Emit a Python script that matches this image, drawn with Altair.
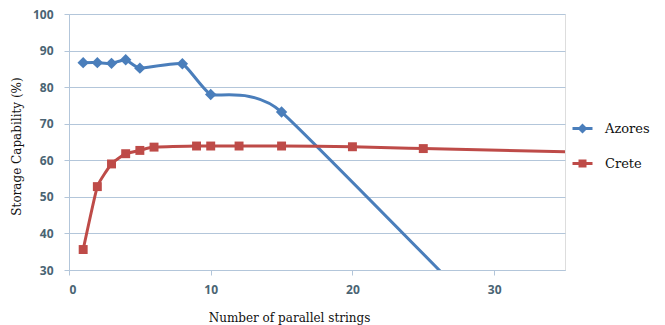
import altair as alt
import pandas as pd

# ---- data ----
series_names = ["Azores", "Crete"]
azores_x = [1, 2, 3, 4, 5, 8, 10, 15, 40]
azores_y = [86.7, 86.7, 86.5, 87.5, 85.2, 86.4, 78.0, 73.2, -25.0]
crete_x = [1, 2, 3, 4, 5, 6, 9, 10, 12, 15, 20, 25, 50]
crete_y = [35.6, 52.8, 59.0, 61.8, 62.7, 63.6, 63.9, 63.9, 63.9, 63.9, 63.7, 63.2, 61.0]
y_ticks = [30, 40, 50, 60, 70, 80, 90, 100]
x_ticks = [0, 10, 20, 30]

colors = ["#4A7EBB", "#BE4B48"]
legend_paths = [
    "M-2,-0.3H2V0.3H-2Z M0,-1L1,0L0,1L-1,0Z",
    "M-2,-0.3H2V0.3H-2Z M-0.8,-0.8H0.8V0.8H-0.8Z",
]

df = pd.concat([
    pd.DataFrame({"x": azores_x, "y": azores_y, "series": "Azores"}),
    pd.DataFrame({"x": crete_x, "y": crete_y, "series": "Crete"}),
], ignore_index=True)

xscale = alt.Scale(domain=[0, 35], nice=False, zero=False)
yscale = alt.Scale(domain=[30, 100], nice=False, zero=False)
cscale = alt.Scale(domain=series_names, range=colors)

grid_col = "#B3C6DA"
lab_font = "Open Sans"
lab_col = "#4A6473"

x_axis = alt.Axis(values=x_ticks, grid=False, domainColor=grid_col, tickColor=grid_col,
                  tickSize=5, labelFont=lab_font, labelFontSize=12, labelFontWeight="bold",
                  labelColor=lab_col, labelPadding=9, labelOverlap=False,
                  title="Number of parallel strings", titleFont="DejaVu Serif",
                  titleFontSize=12, titleFontWeight="normal", titleColor="#111111",
                  titleX=220, titleY=47, titleAlign="center", titleBaseline="middle")
y_axis = alt.Axis(values=y_ticks, grid=True, gridColor=grid_col, domainColor=grid_col,
                  tickColor=grid_col, tickSize=5, labelFont=lab_font, labelFontSize=12,
                  labelFontWeight="bold", labelColor=lab_col, labelPadding=11,
                  labelOverlap=False,
                  title="Storage Capability (%)", titleFont="DejaVu Serif",
                  titleFontSize=12, titleFontWeight="normal", titleColor="#111111",
                  titleX=-53, titleY=132, titleAlign="center", titleBaseline="middle")

X = alt.X("x:Q", scale=xscale, axis=x_axis)
Y = alt.Y("y:Q", scale=yscale, axis=y_axis)
C = alt.Color("series:N", scale=cscale)

base = alt.Chart(df)

lines = base.mark_line(strokeWidth=3, interpolate="cardinal", tension=0.6, clip=True).encode(
    x=X, y=Y, color=C, detail="series:N",
)

az_pts = base.transform_filter(alt.datum.series == "Azores").mark_point(
    shape="diamond", filled=True, size=130, opacity=1, clip=True).encode(x=X, y=Y, color=C)
cr_pts = base.transform_filter(alt.datum.series == "Crete").mark_point(
    shape="square", filled=True, size=80, opacity=1, clip=True).encode(x=X, y=Y, color=C)

leg = alt.Legend(title=None, orient="none", legendX=507, legendY=108,
                 symbolSize=100, symbolOpacity=1, symbolStrokeWidth=0,
                 labelFont="DejaVu Serif", labelFontSize=13, labelColor="#111111",
                 labelOffset=16, rowPadding=21, padding=0)

legend_layer = base.mark_point(filled=True, opacity=0).encode(
    x=X, y=Y, color=alt.Color("series:N", scale=cscale, legend=leg),
    shape=alt.Shape("series:N", scale=alt.Scale(domain=series_names, range=legend_paths),
                    legend=leg),
)

chart = alt.layer(lines, az_pts, cr_pts, legend_layer).properties(
    width=496, height=256,
    autosize=alt.AutoSizeParams(type="none"),
    padding={"left": 69, "top": 14, "right": 100, "bottom": 55},
).configure_view(stroke=None).configure_axis(labelOverlap=False).configure(background="white")

chart.save("out.html", embed_options={"renderer": "svg", "actions": False})
